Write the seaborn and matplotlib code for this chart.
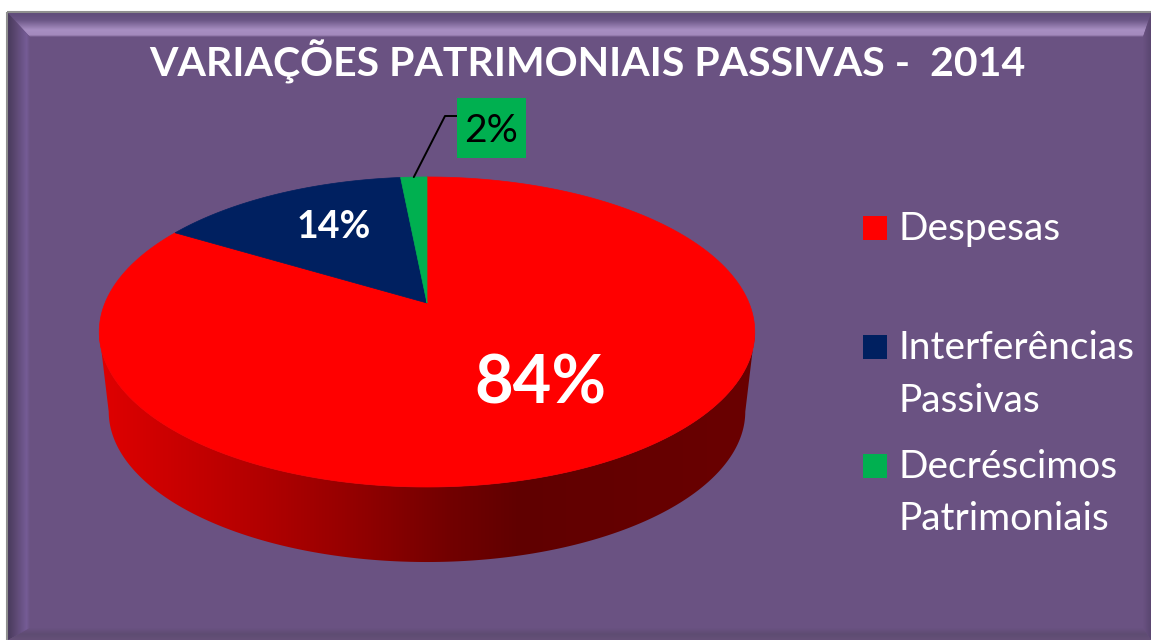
#!/usr/bin/python env
"""plot.py

Recreate the VARIACOES PATRIMONIAIS PASSIVAS perspective pie chart.

"""

import numpy as np
import matplotlib
matplotlib.use("Agg")
import matplotlib.pyplot as plt
from matplotlib.colors import LinearSegmentedColormap
from matplotlib.patches import PathPatch, Polygon, Rectangle
from matplotlib.path import Path
import seaborn as sns

TITLE = "VARIAÇÕES PATRIMONIAIS PASSIVAS -  2014"
categories = ["Despesas", "Interferências\nPassivas", "Decréscimos\nPatrimoniais"]
shares = [83.6, 14.85, 1.55]
share_labels = ["84%", "14%", "2%"]
slice_colors = ["#FF0000", "#002060", "#00B050"]

BG = "#6A5282"

# Perspective of the disc, in pixels
CX, APEX_Y = 427, 303
RADIUS, DEPTH_SCALE, TILT = 322, 149.6, 0.187
WALL_SHIFT, WALL_SCALE = 79.5, 0.971


def project(theta):
    """Map angles (clockwise from 12 o'clock) onto the top face."""
    u, v = np.sin(theta), np.cos(theta)
    w = 1 + TILT * v
    return CX + RADIUS * u / w, APEX_Y - DEPTH_SCALE * v / w


def wedge(theta0, theta1):
    t = np.linspace(theta0, theta1, 200)
    x, y = project(t)
    return np.column_stack([np.r_[CX, x, CX], np.r_[APEX_Y, y, APEX_Y]])


def ring_bottom(theta):
    """Lower rim of the disc: a smaller copy of the top rim, moved down."""
    x, y = project(theta)
    mid_y = (project(np.array([0.0]))[1][0] + project(np.array([np.pi]))[1][0]) / 2
    return CX + (x - CX) * WALL_SCALE, mid_y + WALL_SHIFT + (y - mid_y) * WALL_SCALE


def gradient(ax, colors, extent, clip, horizontal=True, stops=None):
    """Paint a linear gradient clipped to a polygon."""
    if stops is None:
        stops = np.linspace(0, 1, len(colors))
    cmap = LinearSegmentedColormap.from_list("g", list(zip(stops, colors)))
    ramp = np.linspace(0, 1, 512)
    ramp = ramp.reshape(1, -1) if horizontal else ramp.reshape(-1, 1)
    img = ax.imshow(ramp, cmap=cmap, extent=extent, aspect="auto",
                    interpolation="bilinear", zorder=1)
    patch = Polygon(clip, closed=True, transform=ax.transData, fc="none", ec="none")
    ax.add_patch(patch)
    img.set_clip_path(patch)


def draw_frame(ax):
    """Purple panel with its bevelled edges."""
    ax.add_patch(Rectangle((8, 13), 1143, 627, fc=BG, ec="none", zorder=0))

    # top bevel
    gradient(ax, ["#5F4B7A", "#6A5585", "#A88FC2", "#A48ABD", "#6A5282"],
             (8, 1151, 37, 13), [(8, 13), (1151, 13), (1143, 37), (30, 37)],
             horizontal=False, stops=[0, 0.29, 0.7, 0.92, 1])
    # left bevel
    gradient(ax, ["#483A5C", "#5C4872", "#755C96", "#6A5282"],
             (8, 30, 640, 13), [(8, 13), (30, 37), (30, 628), (8, 640)],
             stops=[0, 0.35, 0.85, 1])
    # right bevel
    gradient(ax, ["#6A5282", "#5A4670"],
             (1143, 1151, 640, 13), [(1151, 13), (1143, 37), (1143, 628), (1151, 640)])
    # bottom bevel
    gradient(ax, ["#6A5282", "#5E4C72", "#655078"],
             (8, 1151, 640, 628), [(30, 628), (1143, 628), (1151, 640), (8, 640)],
             horizontal=False)

    ax.plot([7, 7], [640, 12], color="#8F8F8F", lw=1.5, zorder=2, solid_capstyle="butt")
    ax.plot([7, 1151], [12, 12], color="#8F8F8F", lw=1.5, zorder=2, solid_capstyle="butt")


def draw_pie(ax):
    """Side wall first, then one wedge per share on top of it."""
    front = np.linspace(np.pi / 2 + 0.19, 3 * np.pi / 2 - 0.19, 300)
    top_x, top_y = project(front)
    low_x, low_y = ring_bottom(front)
    wall = np.column_stack([np.r_[top_x, low_x[::-1]], np.r_[top_y, low_y[::-1]]])
    gradient(ax, ["#6A0000", "#600000", "#720000", "#950000", "#B50000", "#D00000", "#E00000"],
             (755, 99, 570, 170), wall,
             stops=[0, 0.358, 0.465, 0.617, 0.77, 0.92, 1])

    edges = 2 * np.pi * np.r_[0, np.cumsum(shares)] / np.sum(shares)
    for i, color in enumerate(slice_colors):
        path = Path(wedge(edges[i], edges[i + 1]))
        ax.add_patch(PathPatch(path, fc=color, ec=color, lw=0.5, zorder=3))
    return edges


def run():
    sns.set_theme(style="white")
    plt.rcParams["font.family"] = ["Lato", "DejaVu Sans"]
    palette = sns.color_palette(slice_colors)

    fig = plt.figure(figsize=(11.51, 6.40), dpi=100, facecolor="white")
    ax = fig.add_axes([0, 0, 1, 1])
    ax.axis("off")

    draw_frame(ax)
    edges = draw_pie(ax)

    ax.text(587, 62, TITLE, color="white", fontsize=29.5, fontweight="bold",
            ha="center", va="center", zorder=5)

    # Data labels
    ax.text(540, 384, share_labels[0], color="white", fontsize=48,
            fontweight="bold", ha="center", va="center", zorder=5)
    ax.text(334, 227, share_labels[1], color="white", fontsize=27,
            fontweight="bold", ha="center", va="center", zorder=5)

    # The small slice gets a boxed label and a leader line
    rim_x, rim_y = project(np.array([(edges[2] + edges[3]) / 2]))
    ax.plot([rim_x[0], 445, 457], [rim_y[0], 116, 116], color="black", lw=1.4, zorder=4)
    ax.add_patch(Rectangle((457, 98), 69, 60, fc=palette[2], ec="none", zorder=4))
    ax.text(491.5, 131, share_labels[2], color="black", fontsize=28,
            ha="center", va="center", zorder=5)

    # Legend
    legend_rows = [228, 347, 466]
    for label, color, row in zip(categories, palette, legend_rows):
        ax.add_patch(Rectangle((863, row - 12), 24, 24, fc=color, ec="none", zorder=4))
        lines = label.split("\n")
        for j, line in enumerate(lines):
            ax.text(899, row + 1 + j * 52.5, line, color="white", fontsize=28,
                    ha="left", va="center", zorder=5)

    ax.set_xlim(0, 1151)
    ax.set_ylim(640, 0)
    fig.savefig("out.png", dpi=100, facecolor="white")


if __name__ == "__main__":
    run()
